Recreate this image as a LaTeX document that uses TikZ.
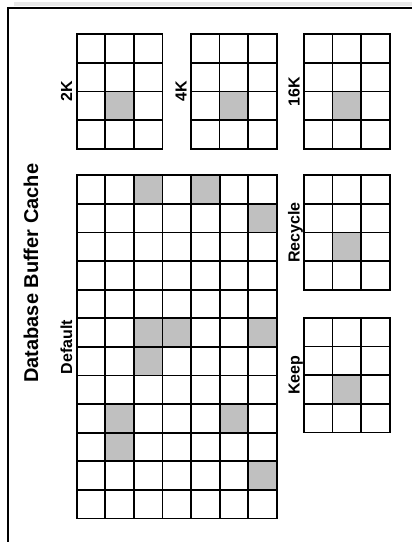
\documentclass[tikz,border=0pt]{standalone}
\usepackage{fontspec}
\setmainfont{Liberation Sans}
\definecolor{cellgray}{HTML}{C0C0C0}
\definecolor{bandgray}{HTML}{E8E8E8}
\tikzset{
  gridline/.style={line width=1.7pt, draw=black, line cap=rect},
  framelined/.style={line width=2pt, draw=black},
  lbl/.style={font=\bfseries\fontsize{16}{19}\selectfont, rotate=90, inner sep=0pt, anchor=base},
  ttl/.style={font=\bfseries\fontsize{20}{24}\selectfont, rotate=90, inner sep=0pt, anchor=base},
}
\newcommand\cellsz{28.6}
% name, x, y, cols, rows, shaded {col/row,...}, label
\newcommand\bufgrid[7]{%
  \foreach \cc/\rr in {#6}{\fill[cellgray] (#2+\cc*\cellsz, #3+\rr*\cellsz) rectangle ++(\cellsz,\cellsz);}
  \foreach \i in {0,...,#4}{\draw[gridline] (#2+\i*\cellsz, #3) -- ++(0, #5*\cellsz);}
  \foreach \j in {0,...,#5}{\draw[gridline] (#2, #3+\j*\cellsz) -- ++(#4*\cellsz, 0);}
  \coordinate (#1) at (#2-4.5, #3+#5*\cellsz/2);
  \node[lbl] (#1l) at (#1) {#7};
}
\begin{document}
\begin{tikzpicture}[x=1pt, y=-1pt]
\useasboundingbox (0,0) rectangle (412,542);
\fill[bandgray] (14,2) rectangle (412,6);
\draw[framelined] (7.7,542) -- (7.7,8.3) -- (412,8.3);
\bufgrid{g2k}{76.7}{34.3}{3}{4}{1/2}{2K}
\bufgrid{g4k}{191}{34.3}{3}{4}{1/2}{4K}
\bufgrid{g16k}{304}{34.3}{3}{4}{1/2}{16K}
\bufgrid{gdef}{76.7}{175.3}{7}{12}{2/0,4/0,6/1,2/5,3/5,6/5,2/6,1/8,5/8,1/9,6/10}{Default}
\bufgrid{grec}{304}{175.3}{3}{4}{1/2}{Recycle}
\bufgrid{gkeep}{304}{318}{3}{4}{1/2}{Keep}
\node[ttl] (title) at (38, 273.3) {Database Buffer Cache};
\end{tikzpicture}
\end{document}
